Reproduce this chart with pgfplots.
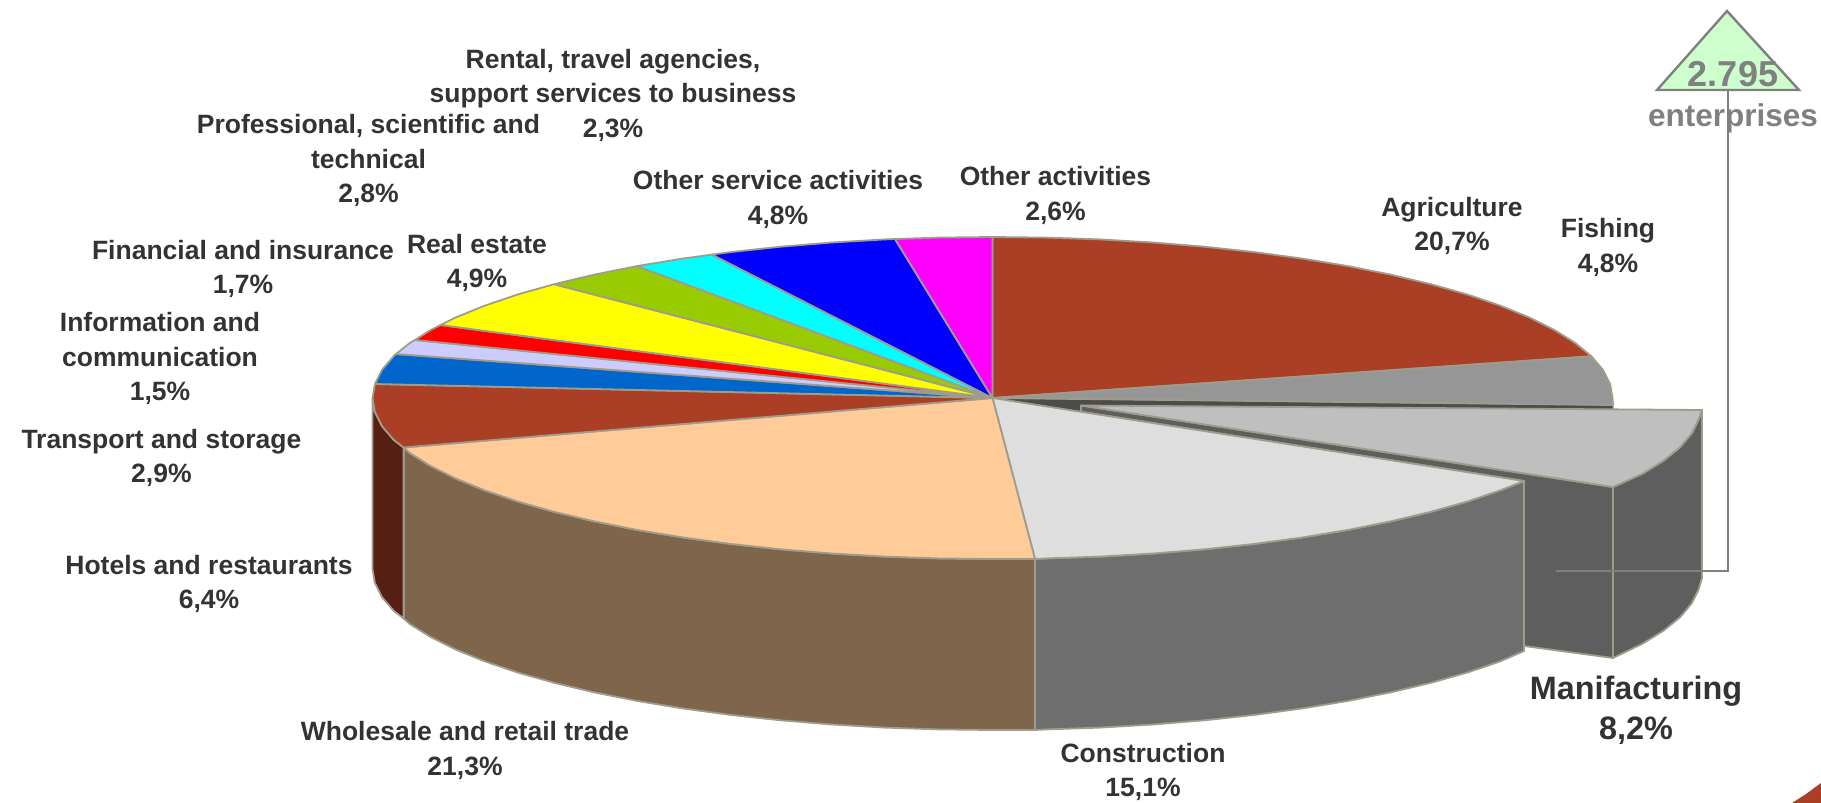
\documentclass[border=0pt]{standalone}
\usepackage{pgfplots}
\pgfplotsset{compat=1.18}
\usepackage{fontspec}
\setmainfont{Liberation Sans}
\definecolor{edge}{HTML}{A09C8C}
\definecolor{lab}{HTML}{333333}
\definecolor{call}{HTML}{808080}
\definecolor{rust}{HTML}{AB3F25}
\definecolor{pcyan}{HTML}{00FFFF}
\definecolor{pmag}{HTML}{FF00FF}
\definecolor{pyel}{HTML}{FFFF00}
\definecolor{pred}{HTML}{FF0000}
\definecolor{pblue}{HTML}{0000FF}
\tikzset{lb/.style={align=center,text=lab,inner sep=0pt,font=\bfseries\fontsize{26.5}{34.5}\selectfont},
 sl/.style={no marks,draw=edge,line width=1.8pt,line join=round}}
\begin{document}
\begin{tikzpicture}
\useasboundingbox (0,0) rectangle (1821pt,803pt);
\begin{axis}[at={(0,0)},anchor=south west,scale only axis,width=1821pt,height=803pt,
 xmin=0,xmax=1821,ymin=0,ymax=803,y dir=reverse,hide axis,clip=false]
% ---- Manufacturing (exploded) and the gap behind it
\addplot[no marks,fill=black!70,draw=edge,line width=1pt] coordinates {(992.5,398)(1613,405)(1613,409.5)(1081,405.5)(1081,411.8)} --cycle;
\addplot[sl,fill=black!63] coordinates {(1081,405.5)(1613,487)(1613,658)(1524,646)(1524,481)(1081,411.8)} --cycle;
\addplot[sl,fill=black!63] coordinates {(1613,487)(1642.9,473.5)(1663.6,460.6)(1680.1,447.2)(1691.6,433.5)(1698.6,419.5)(1702,410)(1702,578)(1698.6,589.5)(1691.6,603.5)(1680.1,617.2)(1663.6,630.6)(1642.9,643.5)(1613,658)} --cycle;
\addplot[sl,fill=black!25] coordinates {(1081,405.5)(1702,410)(1698.6,419.5)(1691.6,433.5)(1680.1,447.2)(1663.6,460.6)(1642.9,473.5)(1613,487)} --cycle;
% ---- Side walls
\addplot[sl,fill=black!57] coordinates {(1035,559)(1046.6,558.4)(1100.1,556.6)(1153,553.5)(1204.5,549.3)(1254.5,543.9)(1302.5,537.4)(1348.1,529.9)(1391,521.3)(1430.9,511.8)(1467.4,501.5)(1500.4,490.3)(1524,481)(1524,651)(1500.4,661.3)(1467.4,672.5)(1430.9,682.8)(1391,692.3)(1348.1,700.9)(1302.5,708.4)(1254.5,714.9)(1204.5,720.3)(1153,724.5)(1100.1,727.6)(1046.6,729.4)(1035,730)} --cycle;
\addplot[sl,fill={rgb,255:red,127;green,101;blue,76}] coordinates {(403.6,447.5)(409.9,453.1)(430.6,466)(455.6,478.5)(484.6,490.3)(517.6,501.5)(554.1,511.8)(594,521.3)(636.9,529.9)(682.5,537.4)(730.5,543.9)(780.5,549.3)(832,553.5)(884.9,556.6)(938.4,558.4)(992.5,559)(1035,559)(1035,730)(992.5,730)(938.4,729.4)(884.9,727.6)(832,724.5)(780.5,720.3)(730.5,714.9)(682.5,708.4)(636.9,700.9)(594,692.3)(554.1,682.8)(517.6,672.5)(484.6,661.3)(455.6,649.5)(430.6,637)(409.9,624.1)(403.6,618.5)} --cycle;
\addplot[sl,fill={rgb,255:red,85;green,31;blue,19}] coordinates {(403.6,447.5)(393.6,439.7)(381.9,426)(374.9,412)(372.5,398)(372.5,569)(374.9,583)(381.9,597)(393.6,610.7)(403.6,618.5)} --cycle;
% ---- Top faces
\addplot[sl,fill=rust] coordinates {(992.5,398)(992.5,237)(1046.6,237.6)(1100.1,239.4)(1153,242.5)(1204.5,246.7)(1254.5,252.1)(1302.5,258.6)(1348.1,266.1)(1391,274.7)(1430.9,284.2)(1467.4,294.5)(1500.4,305.7)(1529.4,317.5)(1554.4,330)(1575.1,342.9)(1591.4,356.3)} --cycle;
\addplot[sl,fill={rgb,255:red,150;green,150;blue,150}] coordinates {(992.5,398)(1591.4,356.3)(1603.1,370)(1610.1,384)(1612.5,398)(1613,405)} --cycle;
\addplot[sl,fill=black!13] coordinates {(992.5,398)(1035,559)(1046.6,558.4)(1100.1,556.6)(1153,553.5)(1204.5,549.3)(1254.5,543.9)(1302.5,537.4)(1348.1,529.9)(1391,521.3)(1430.9,511.8)(1467.4,501.5)(1500.4,490.3)(1524,481)} --cycle;
\addplot[sl,fill={rgb,255:red,255;green,204;blue,153}] coordinates {(992.5,398)(403.6,447.5)(409.9,453.1)(430.6,466)(455.6,478.5)(484.6,490.3)(517.6,501.5)(554.1,511.8)(594,521.3)(636.9,529.9)(682.5,537.4)(730.5,543.9)(780.5,549.3)(832,553.5)(884.9,556.6)(938.4,558.4)(992.5,559)(1035,559)} --cycle;
\addplot[sl,fill=rust] coordinates {(992.5,398)(403.6,447.5)(393.6,439.7)(381.9,426)(374.9,412)(372.5,398)(374.9,384)} --cycle;
\addplot[sl,fill={rgb,255:red,0;green,102;blue,204}] coordinates {(992.5,398)(374.9,384)(381.9,370)(393.6,356.3)(396,354)} --cycle;
\addplot[sl,fill={rgb,255:red,204;green,204;blue,255}] coordinates {(992.5,398)(396,354)(409.9,342.9)(415,340)} --cycle;
\addplot[sl,fill=pred] coordinates {(992.5,398)(415,340)(430.6,330)(440.5,325)} --cycle;
\addplot[sl,fill=pyel] coordinates {(992.5,398)(440.5,325)(455.6,317.5)(484.6,305.7)(517.6,294.5)(554.1,284.2)} --cycle;
\addplot[sl,fill={rgb,255:red,153;green,204;blue,0}] coordinates {(992.5,398)(554.1,284.2)(594,274.7)(636.9,266.1)} --cycle;
\addplot[sl,fill=pcyan] coordinates {(992.5,398)(636.9,266.1)(682.5,258.6)(712,254.6)} --cycle;
\addplot[sl,fill=pblue] coordinates {(992.5,398)(712,254.6)(730.5,252.1)(780.5,246.7)(832,242.5)(884.9,239.4)(895,239)} --cycle;
\addplot[sl,fill=pmag] coordinates {(992.5,398)(895,239)(938.4,237.6)(992.5,237)} --cycle;
% ---- Callout
\addplot[no marks,draw=call,line width=2.4pt] coordinates {(1556,571)(1728,571)(1728,90)};
\addplot[no marks,draw=call,line width=2.4pt,fill={rgb,255:red,204;green,255;blue,204}] coordinates {(1727,11)(1657,90)(1799,90)} --cycle;
% ---- Corner shape
\addplot[no marks,draw=none,fill=rust] coordinates {(1792,803)(1806,794)(1821,783)(1821,803)} --cycle;
% ---- Labels
\node[lb] at (axis cs:613,95) {Rental, travel agencies,\\support services to business\\2,3\%};
\node[lb] at (axis cs:368.5,160.5) {Professional, scientific and\\technical\\2,8\%};
\node[lb] at (axis cs:778,199.5) {Other service activities\\4,8\%};
\node[lb] at (axis cs:1055.5,195.5) {Other activities\\2,6\%};
\node[lb] at (axis cs:1452,226) {Agriculture\\20,7\%};
\node[lb] at (axis cs:1608,247.5) {Fishing\\4,8\%};
\node[lb] at (axis cs:477,263) {Real estate\\4,9\%};
\node[lb] at (axis cs:243,269) {Financial and insurance\\1,7\%};
\node[lb] at (axis cs:160,358.5) {Information and\\communication\\1,5\%};
\node[lb] at (axis cs:161.4,458) {Transport and storage\\2,9\%};
\node[lb] at (axis cs:209,584) {Hotels and restaurants\\6,4\%};
\node[lb] at (axis cs:465,750.5) {Wholesale and retail trade\\21,3\%};
\node[lb] at (axis cs:1143,772) {Construction\\15,1\%};
\node[lb,font=\bfseries\fontsize{32.4}{40}\selectfont] at (axis cs:1636,710) {Manifacturing\\8,2\%};
\node[inner sep=0pt,text=call,font=\bfseries\fontsize{36}{40}\selectfont] at (axis cs:1733,74) {2.795};
\node[inner sep=0pt,text=call,font=\bfseries\fontsize{31.5}{36}\selectfont] at (axis cs:1733,118) {enterprises};
\end{axis}
\end{tikzpicture}
\end{document}
